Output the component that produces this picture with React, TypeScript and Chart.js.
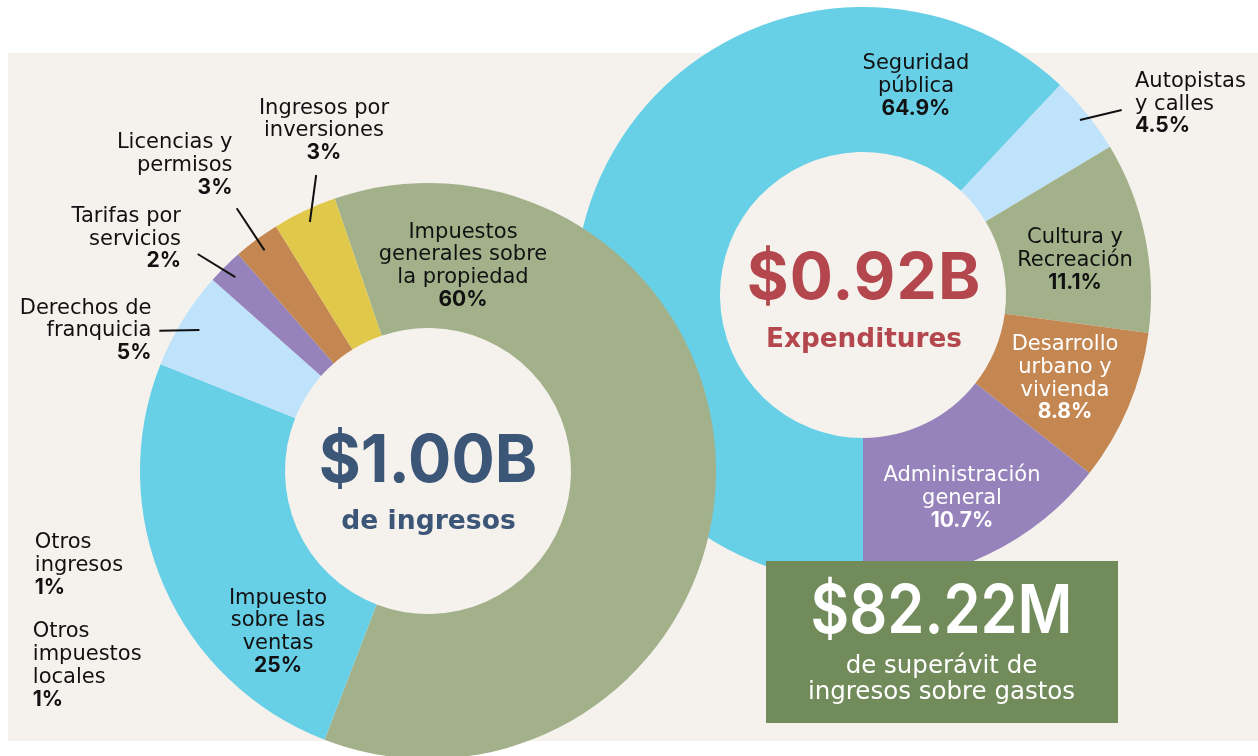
import React, { useEffect, useRef } from "react";
import { Chart, registerables } from "chart.js";

Chart.register(...registerables);

// ---------------- DATA ----------------
// Revenue (ingresos) – slice sizes read from the drawn arcs (percent of circle)
const revenueCategories = [
  "Impuestos generales sobre la propiedad",
  "Impuesto sobre las ventas",
  "Derechos de franquicia",
  "Tarifas por servicios",
  "Licencias y permisos",
  "Ingresos por inversiones",
  "Otros ingresos",
  "Otros impuestos locales",
];
const revenueLabelLines = [
  ["Impuestos", "generales sobre", "la propiedad"],
  ["Impuesto", "sobre las", "ventas"],
  ["Derechos de", "franquicia"],
  ["Tarifas por", "servicios"],
  ["Licencias y", "permisos"],
  ["Ingresos por", "inversiones"],
  ["Otros", "ingresos"],
  ["Otros", "impuestos", "locales"],
];
const revenuePctLabels = ["60%", "25%", "5%", "2%", "3%", "3%", "1%", "1%"];
const revenueSliceValues = [61.1, 25.2, 5.5, 2.0, 2.6, 3.6, 0, 0];

// Expenditures
const expenseCategories = [
  "Seguridad pública",
  "Autopistas y calles",
  "Cultura y Recreación",
  "Desarrollo urbano y vivienda",
  "Administración general",
];
const expenseLabelLines = [
  ["Seguridad", "pública"],
  ["Autopistas", "y calles"],
  ["Cultura y", "Recreación"],
  ["Desarrollo", "urbano y", "vivienda"],
  ["Administración", "general"],
];
const expensePctLabels = ["64.9%", "4.5%", "11.1%", "8.8%", "10.7%"];
const expenseSliceValues = [62.0, 4.4, 10.7, 8.5, 14.4];

const revenueTotal = "$1.00B";
const revenueCaption = "de ingresos";
const expenseTotal = "$0.92B";
const expenseCaption = "Expenditures";
const surplusValue = "$82.22M";
const surplusCaption = ["de superávit de", "ingresos sobre gastos"];

// ---------------- STYLE / LAYOUT ----------------
const W = 1258;
const H = 756;
const CH = 800; // canvas height (donut runs past the bottom edge)

const C = {
  beige: "#f5f2ee",
  sage: "#a2b18a",
  cyan: "#67cfe6",
  lightBlue: "#bee3fa",
  purple: "#9683bb",
  brown: "#c48752",
  yellow: "#e0c84a",
  boxGreen: "#728b5a",
  navy: "#3c5677",
  red: "#b4474d",
  ink: "#111111",
};

const revenueColors = [C.sage, C.cyan, C.lightBlue, C.purple, C.brown, C.yellow, C.beige, C.beige];
const expenseColors = [C.cyan, C.lightBlue, C.sage, C.brown, C.purple];

const REV = { cx: 428, cy: 471, r: 288, cut: 143, rotation: -18.9 };
const EXP = { cx: 863, cy: 295, r: 288, cut: 143, rotation: 180 };

type Anchor = "start" | "middle" | "end";
const revenueLabelPos: { x: number; y: number; a: Anchor; color?: string }[] = [
  { x: 463, y: 237.5, a: "middle" },
  { x: 278, y: 603.5, a: "middle" },
  { x: 151.5, y: 313.5, a: "end" },
  { x: 181, y: 221.7, a: "end" },
  { x: 232.5, y: 148.3, a: "end" },
  { x: 324, y: 113.5, a: "middle" },
  { x: 34.8, y: 548.3, a: "start" },
  { x: 32.8, y: 637.3, a: "start" },
];
const expenseLabelPos: { x: number; y: number; a: Anchor; color?: string }[] = [
  { x: 916, y: 69, a: "middle" },
  { x: 1135, y: 86.7, a: "start" },
  { x: 1075, y: 243.3, a: "middle" },
  { x: 1065, y: 350, a: "middle", color: "#ffffff" },
  { x: 962, y: 481, a: "middle", color: "#ffffff" },
];

// leader lines: slice index, radius of inner end, outer end point
const revenueLeaders = [
  { i: 2, r: 268.6, to: [159.3, 330.8] },
  { i: 3, r: 273.4, to: [197.7, 254] },
  { i: 4, r: 274.6, to: [236.7, 208.3] },
  { i: 5, r: 275.6, to: [316.2, 175] },
];
const expenseLeaders = [{ i: 1, r: 278.7, to: [1121.7, 110] }];

const LH = 22.8;
const LABEL_FONT = '"DejaVu Sans", sans-serif';
const PCT_FONT = 'Inter, "DejaVu Sans", sans-serif';

function leaderPlugin(leaders: { i: number; r: number; to: number[] }[]) {
  return {
    id: "leaders",
    afterDatasetsDraw(chart: any) {
      const ctx = chart.ctx;
      const meta = chart.getDatasetMeta(0);
      ctx.save();
      ctx.strokeStyle = C.ink;
      ctx.lineWidth = 2;
      ctx.lineCap = "butt";
      leaders.forEach((l) => {
        const arc = meta.data[l.i];
        if (!arc) return;
        const p = arc.getProps(["x", "y", "startAngle", "endAngle"], true);
        const mid = (p.startAngle + p.endAngle) / 2;
        const px = p.x + Math.cos(mid) * l.r;
        const py = p.y + Math.sin(mid) * l.r;
        ctx.beginPath();
        ctx.moveTo(l.to[0], l.to[1]);
        ctx.lineTo(px, py);
        ctx.stroke();
      });
      ctx.restore();
    },
  };
}

function makeDonut(
  canvas: HTMLCanvasElement,
  labels: string[],
  values: number[],
  colors: string[],
  g: { cx: number; cy: number; r: number; cut: number; rotation: number },
  leaders: { i: number; r: number; to: number[] }[]
) {
  return new Chart(canvas, {
    type: "doughnut",
    data: {
      labels,
      datasets: [
        {
          data: values,
          backgroundColor: colors,
          borderWidth: 0,
          hoverOffset: 0,
        },
      ],
    },
    options: {
      responsive: false,
      animation: false,
      devicePixelRatio: 1,
      events: [],
      rotation: g.rotation,
      radius: g.r,
      cutout: g.cut,
      layout: {
        padding: {
          left: g.cx - g.r,
          right: W - (g.cx + g.r),
          top: g.cy - g.r,
          bottom: CH - (g.cy + g.r),
        },
      },
      plugins: { legend: { display: false }, tooltip: { enabled: false } },
    } as any,
    plugins: [leaderPlugin(leaders)],
  });
}

function Label(props: {
  x: number;
  y: number;
  a: Anchor;
  lines: string[];
  pct: string;
  color?: string;
}) {
  const { x, y, a, lines, pct } = props;
  const color = props.color || C.ink;
  return (
    <text x={x} y={y} textAnchor={a} fill={color}>
      {lines.map((l, k) => (
        <tspan key={k} x={x} y={y + k * LH} style={{ fontFamily: LABEL_FONT, fontSize: 21, fontWeight: 400 }}>
          {l}
        </tspan>
      ))}
      <tspan x={x} y={y + lines.length * LH} style={{ fontFamily: PCT_FONT, fontSize: 21, fontWeight: 700 }}>
        {pct}
      </tspan>
    </text>
  );
}

export default function App() {
  const revRef = useRef<HTMLCanvasElement | null>(null);
  const expRef = useRef<HTMLCanvasElement | null>(null);

  useEffect(() => {
    const e = makeDonut(expRef.current!, expenseCategories, expenseSliceValues, expenseColors, EXP, expenseLeaders);
    const r = makeDonut(revRef.current!, revenueCategories, revenueSliceValues, revenueColors, REV, revenueLeaders);
    return () => {
      r.destroy();
      e.destroy();
    };
  }, []);

  const abs: React.CSSProperties = { position: "absolute", left: 0, top: 0, display: "block" };

  return (
    <div style={{ position: "fixed", left: 0, top: 0, width: W, height: H, overflow: "hidden", background: "#ffffff" }}>
      <div style={{ position: "absolute", left: 8, top: 53, width: W - 8, height: 688, background: C.beige }} />
      <canvas ref={expRef} width={W} height={CH} style={{ ...abs, width: W, height: CH }} />
      <canvas ref={revRef} width={W} height={CH} style={{ ...abs, width: W, height: CH }} />
      <svg width={W} height={H} style={{ ...abs }}>
        {revenueLabelLines.map((lines, i) => (
          <Label key={"r" + i} {...revenueLabelPos[i]} lines={lines} pct={revenuePctLabels[i]} />
        ))}
        {expenseLabelLines.map((lines, i) => (
          <Label key={"e" + i} {...expenseLabelPos[i]} lines={lines} pct={expensePctLabels[i]} />
        ))}

        <text x={428} y={481.7} textAnchor="middle" fill={C.navy} textLength={218.5} lengthAdjust="spacingAndGlyphs"
          style={{ fontFamily: "Inter, sans-serif", fontWeight: 700, fontSize: 66.5 }}>
          {revenueTotal}
        </text>
        <text x={428.5} y={529} textAnchor="middle" fill={C.navy} textLength={174.5} lengthAdjust="spacingAndGlyphs"
          style={{ fontFamily: '"DejaVu Sans", sans-serif', fontWeight: 700, fontSize: 26 }}>
          {revenueCaption}
        </text>

        <text x={863.5} y={299} textAnchor="middle" fill={C.red} textLength={233.5} lengthAdjust="spacing"
          style={{ fontFamily: "Inter, sans-serif", fontWeight: 700, fontSize: 64 }}>
          {expenseTotal}
        </text>
        <text x={864} y={346.7} textAnchor="middle" fill={C.red} textLength={196} lengthAdjust="spacingAndGlyphs"
          style={{ fontFamily: '"DejaVu Sans", sans-serif', fontWeight: 700, fontSize: 26 }}>
          {expenseCaption}
        </text>

        <rect x={766} y={561} width={352} height={162} fill={C.boxGreen} />
        <text x={941.5} y={633.3} textAnchor="middle" fill="#ffffff" textLength={262} lengthAdjust="spacingAndGlyphs"
          style={{ fontFamily: "Inter, sans-serif", fontWeight: 600, fontSize: 67 }}>
          {surplusValue}
        </text>
        {surplusCaption.map((s, k) => (
          <text key={k} x={941.5} y={672.7 + k * 26} textAnchor="middle" fill="#ffffff"
            style={{ fontFamily: '"DejaVu Sans", sans-serif', fontWeight: 400, fontSize: 24.5 }}>
            {s}
          </text>
        ))}
      </svg>
    </div>
  );
}
